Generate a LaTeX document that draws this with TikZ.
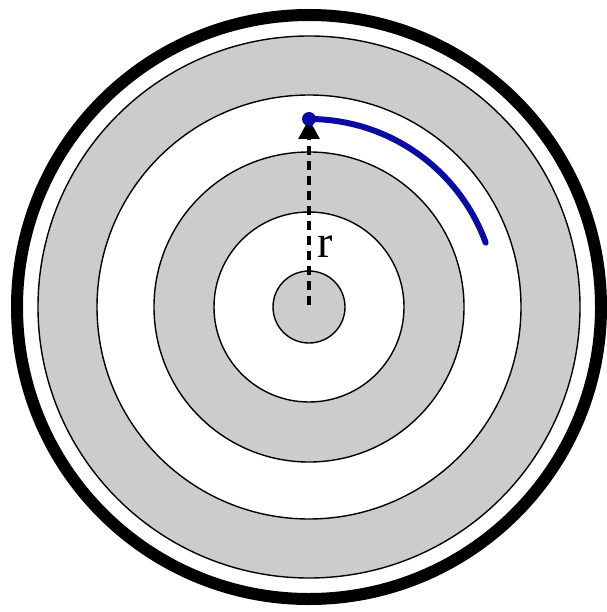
\documentclass[tikz,border=0pt]{standalone}
\usepackage{fontspec}
\setmainfont{Liberation Serif}
\usetikzlibrary{arrows.meta}
\definecolor{ringgray}{RGB}{204,204,204}
\definecolor{pathblue}{RGB}{10,10,165}
\tikzset{
  ring/.style={draw=black, line width=1.4pt},
  ringfill/.style={fill=ringgray, even odd rule},
  radius arrow/.style={dash pattern=on 9pt off 6pt, line width=3.2pt, -{Triangle[length=20pt,width=21pt]}},
  track/.style={draw=pathblue, line width=6pt, line cap=round}
}
\begin{document}
\begin{tikzpicture}[x=1pt,y=1pt]
\useasboundingbox (0,0) rectangle (606,-612);
\coordinate (c) at (309,-307);
% gray rings
\fill[ringfill] (c) circle[radius=271] (c) circle[radius=212];
\fill[ringfill] (c) circle[radius=155] (c) circle[radius=95];
\fill[ringgray] (c) circle[radius=36];
% ring outlines
\foreach \r in {271,212,155,95,36} \draw[ring] (c) circle[radius=\r];
% outer thick rim
\draw[line width=12pt] (c) circle[radius=292];
% radius arrow
\coordinate (tip) at (309,-119);
\coordinate (start) at (309,-305);
\draw[radius arrow] (start) -- (tip);
\node[font=\fontsize{46}{46}\selectfont, inner sep=0pt] (rlab) at (325,-247) {r};
% blue track
\draw[track] (tip) arc[start angle=90, end angle=20, radius=188];
\fill[pathblue] (tip) circle[radius=7];
\end{tikzpicture}
\end{document}
